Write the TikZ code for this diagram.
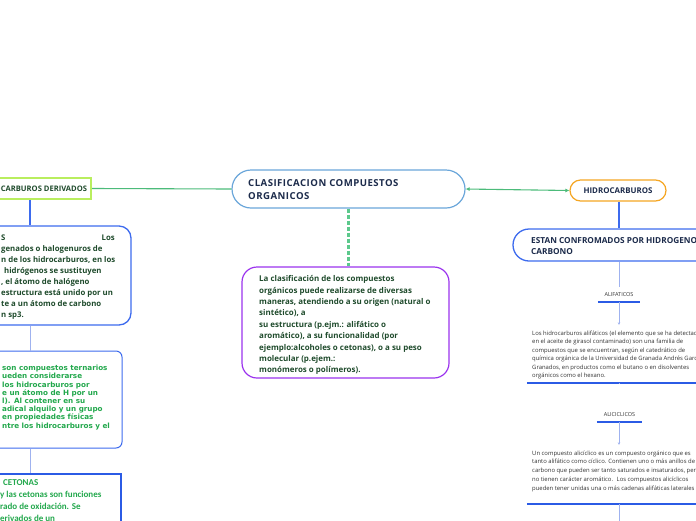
\documentclass[tikz,border=0pt]{standalone}
\usepackage{fontspec}
\setmainfont{Open Sans}
\newfontfamily\carlito{Carlito}
\newfontfamily\dejavu{DejaVu Sans}
\usetikzlibrary{arrows.meta}
\definecolor{cblue}{HTML}{6AA6DA}
\definecolor{navy}{HTML}{1C2B4B}
\definecolor{dgreen}{HTML}{1F4B2C}
\definecolor{lgreen}{HTML}{22A84C}
\definecolor{conn}{HTML}{4CBB7A}
\definecolor{dashg}{HTML}{5CC98C}
\definecolor{lime}{HTML}{B9EE5E}
\definecolor{bblue}{HTML}{3D6BEE}
\definecolor{sblue}{HTML}{2B5BE5}
\definecolor{lav}{HTML}{9FB2EF}
\definecolor{purp}{HTML}{9B33EE}
\definecolor{orng}{HTML}{F5A623}
\definecolor{gtext}{HTML}{333333}
\begin{document}
\begin{tikzpicture}[x=1pt,y=-1pt,
  boxs/.style={fill=white, inner sep=0pt},
  txt/.style={inner sep=0pt, align=left, anchor=north west},
  thinline/.style={lav, line width=1pt},
  uline/.style={sblue, line width=1.6pt},
  smalltip/.style={-{Stealth[length=2.5pt,width=2.5pt]}}
]
\useasboundingbox (0,0) rectangle (696,520);
\clip (0,0) rectangle (696,520);

% ---------- centre ----------
\node[boxs, draw=cblue, line width=1.2pt, rounded corners=19pt, minimum width=233pt, minimum height=38pt] (center) at (348.5,189) {};
\node[txt, font=\bfseries\fontsize{9.6}{13}\selectfont\addfontfeature{LetterSpace=5}, text=navy] (centertxt) at (248,179.6) {CLASIFICACION COMPUESTOS\\ORGANICOS};

\node[boxs, draw=purp, line width=1.2pt, rounded corners=15pt, minimum width=207pt, minimum height=111pt] (desc) at (345.5,322.5) {};
\node[txt, font=\bfseries\fontsize{7.95}{11.4}\selectfont, text=dgreen] (desctxt) at (259,275.5) {La clasificación de los compuestos\\orgánicos puede realizarse de diversas\\maneras, atendiendo a su origen (natural o\\sintético), a\\su estructura (p.ejm.: alifático o\\aromático), a su funcionalidad (por\\ejemplo:alcoholes o cetonas), o a su peso\\molecular (p.ejem.:\\monómeros o polímeros).};

% ---------- left column ----------
\node[boxs, draw=lime, line width=1.8pt, minimum height=21pt, inner xsep=4pt, anchor=east, font=\bfseries\fontsize{7.6}{9}\selectfont, text=dgreen] (hd) at (92,188.5) {HIDROCARBUROS DERIVADOS};

\node[boxs, draw=bblue, line width=1.3pt, rounded corners=12pt, minimum width=202pt, minimum height=99pt] (boxtwo) at (30,275.5) {};
\node[txt, font=\bfseries\fontsize{7.8}{11}\selectfont, text=dgreen] (boxtwotxt) at (1,234.3) {S\\genados o halogenuros de\\n de los hidrocarburos, en los\\\hspace{3pt}hidrógenos se sustituyen\\, el átomo de halógeno\\estructura está unido por un\\te a un átomo de carbono\\n sp3.};
\node[inner sep=0pt, anchor=north east, font=\bfseries\fontsize{7.8}{11}\selectfont, text=dgreen] (boxtwolos) at (115,234.3) {Los};

\node[boxs, draw=bblue, line width=1pt, rounded corners=6pt, minimum width=184pt, minimum height=97pt] (boxthree) at (30,399.5) {};
\node[txt, font=\dejavu\bfseries\fontsize{7.2}{8.2}\selectfont, text=lgreen] (boxthreetxt) at (2,365) {son compuestos ternarios\\ueden considerarse\\los hidrocarburos por\\e un átomo de H por un\\l). Al contener en su\\adical alquilo y un grupo\\en propiedades físicas\\ntre los hidrocarburos y el};

\node[boxs, draw=sblue, line width=1.8pt, minimum width=180pt, minimum height=96pt] (boxfour) at (31,522) {};
\node[txt, font=\carlito\bfseries\fontsize{9}{12}\selectfont, text=lgreen] (boxfourtxt) at (0,479.2) {\hspace{3pt}CETONAS\\y las cetonas son funciones\\rado de oxidación. Se\\erivados de un};

% ---------- right column ----------
\node[boxs, draw=orng, line width=1.2pt, rounded corners=10.5pt, minimum width=96pt, minimum height=21pt, font=\bfseries\fontsize{7.9}{9}\selectfont, text=navy] (hidro) at (618,190.5) {HIDROCARBUROS};

\node[boxs, draw=bblue, line width=1.3pt, rounded corners=16pt, minimum width=212pt, minimum height=32pt] (estan) at (619,245) {};
\node[txt, font=\bfseries\fontsize{8.25}{11}\selectfont, text=navy] (estantxt) at (531,237.1) {ESTAN CONFROMADOS POR HIDROGENO Y\\CARBONO};

\node[inner sep=0pt, minimum width=42pt, minimum height=15pt, font=\fontsize{5.5}{6}\selectfont, text=gtext] (alif) at (619,294.5) {ALIFATICOS};
\node[inner sep=0pt, minimum width=184pt, minimum height=58pt] (alifbox) at (619,354) {};
\node[txt, font=\fontsize{5.9}{8.5}\selectfont, text=gtext] (aliftxt) at (532,330.4) {Los hidrocarburos alifáticos (el elemento que se ha detectado\\en el aceite de girasol contaminado) son una familia de\\compuestos que se encuentran, según el catedrático de\\química orgánica de la Universidad de Granada Andrés García\\Granados, en productos como el butano o en disolventes\\orgánicos como el hexano.};

\node[inner sep=0pt, minimum width=45pt, minimum height=15pt, font=\fontsize{5.5}{6}\selectfont, text=gtext] (alic) at (619.5,414.5) {ALICICLICOS};
\node[inner sep=0pt, minimum width=184pt, minimum height=59pt] (alicbox) at (619,474.5) {};
\node[txt, font=\fontsize{5.9}{8.75}\selectfont, text=gtext] (alictxt) at (532,450.4) {Un compuesto alicíclico es un compuesto orgánico que es\\tanto alifático como cíclico. Contienen uno o más anillos de\\carbono que pueden ser tanto saturados e insaturados, pero\\no tienen carácter aromático.~ Los compuestos alicíclicos\\pueden tener unidas una o más cadenas alifáticas laterales};
\coordinate (downend) at (619,530);

% underlines
\draw[uline] (alif.south west) -- (alif.south east);
\draw[uline] (alifbox.south west) -- (alifbox.south east);
\draw[uline] (alic.south west) -- (alic.south east);
\draw[uline] (alicbox.south west) -- (alicbox.south east);

% ---------- connectors ----------
\draw[conn, line width=1.1pt] (hd.east) -- (center.west);
\draw[conn, line width=1.1pt, {Latex[length=4pt,width=4pt]}-{Latex[length=4pt,width=4pt]}] (center.east) -- (hidro.west);
\draw[dashg, line width=2.2pt, dash pattern=on 4pt off 2pt] (center.south) -- (center.south |- desc.north);

\draw[bblue, line width=1.2pt] (boxtwo.north |- hd.south) -- (boxtwo.north);
\draw[thinline] (boxtwo.south) -- (boxthree.north);
\draw[thinline] (boxthree.south) -- (boxthree.south |- boxfour.north);

\draw[bblue, line width=1.5pt] (hidro.south -| estan.north) -- (estan.north);
\draw[thinline] (estan.south) -- (alif.north);
\draw[thinline, smalltip] (alif.south) -- (alifbox.north);
\draw[thinline] (alifbox.south) -- (alifbox.south -| alic.north);
\draw[thinline, smalltip] (alic.south -| alicbox.north) -- (alicbox.north);
\draw[thinline] (alicbox.south) -- (downend);
\end{tikzpicture}
\end{document}
